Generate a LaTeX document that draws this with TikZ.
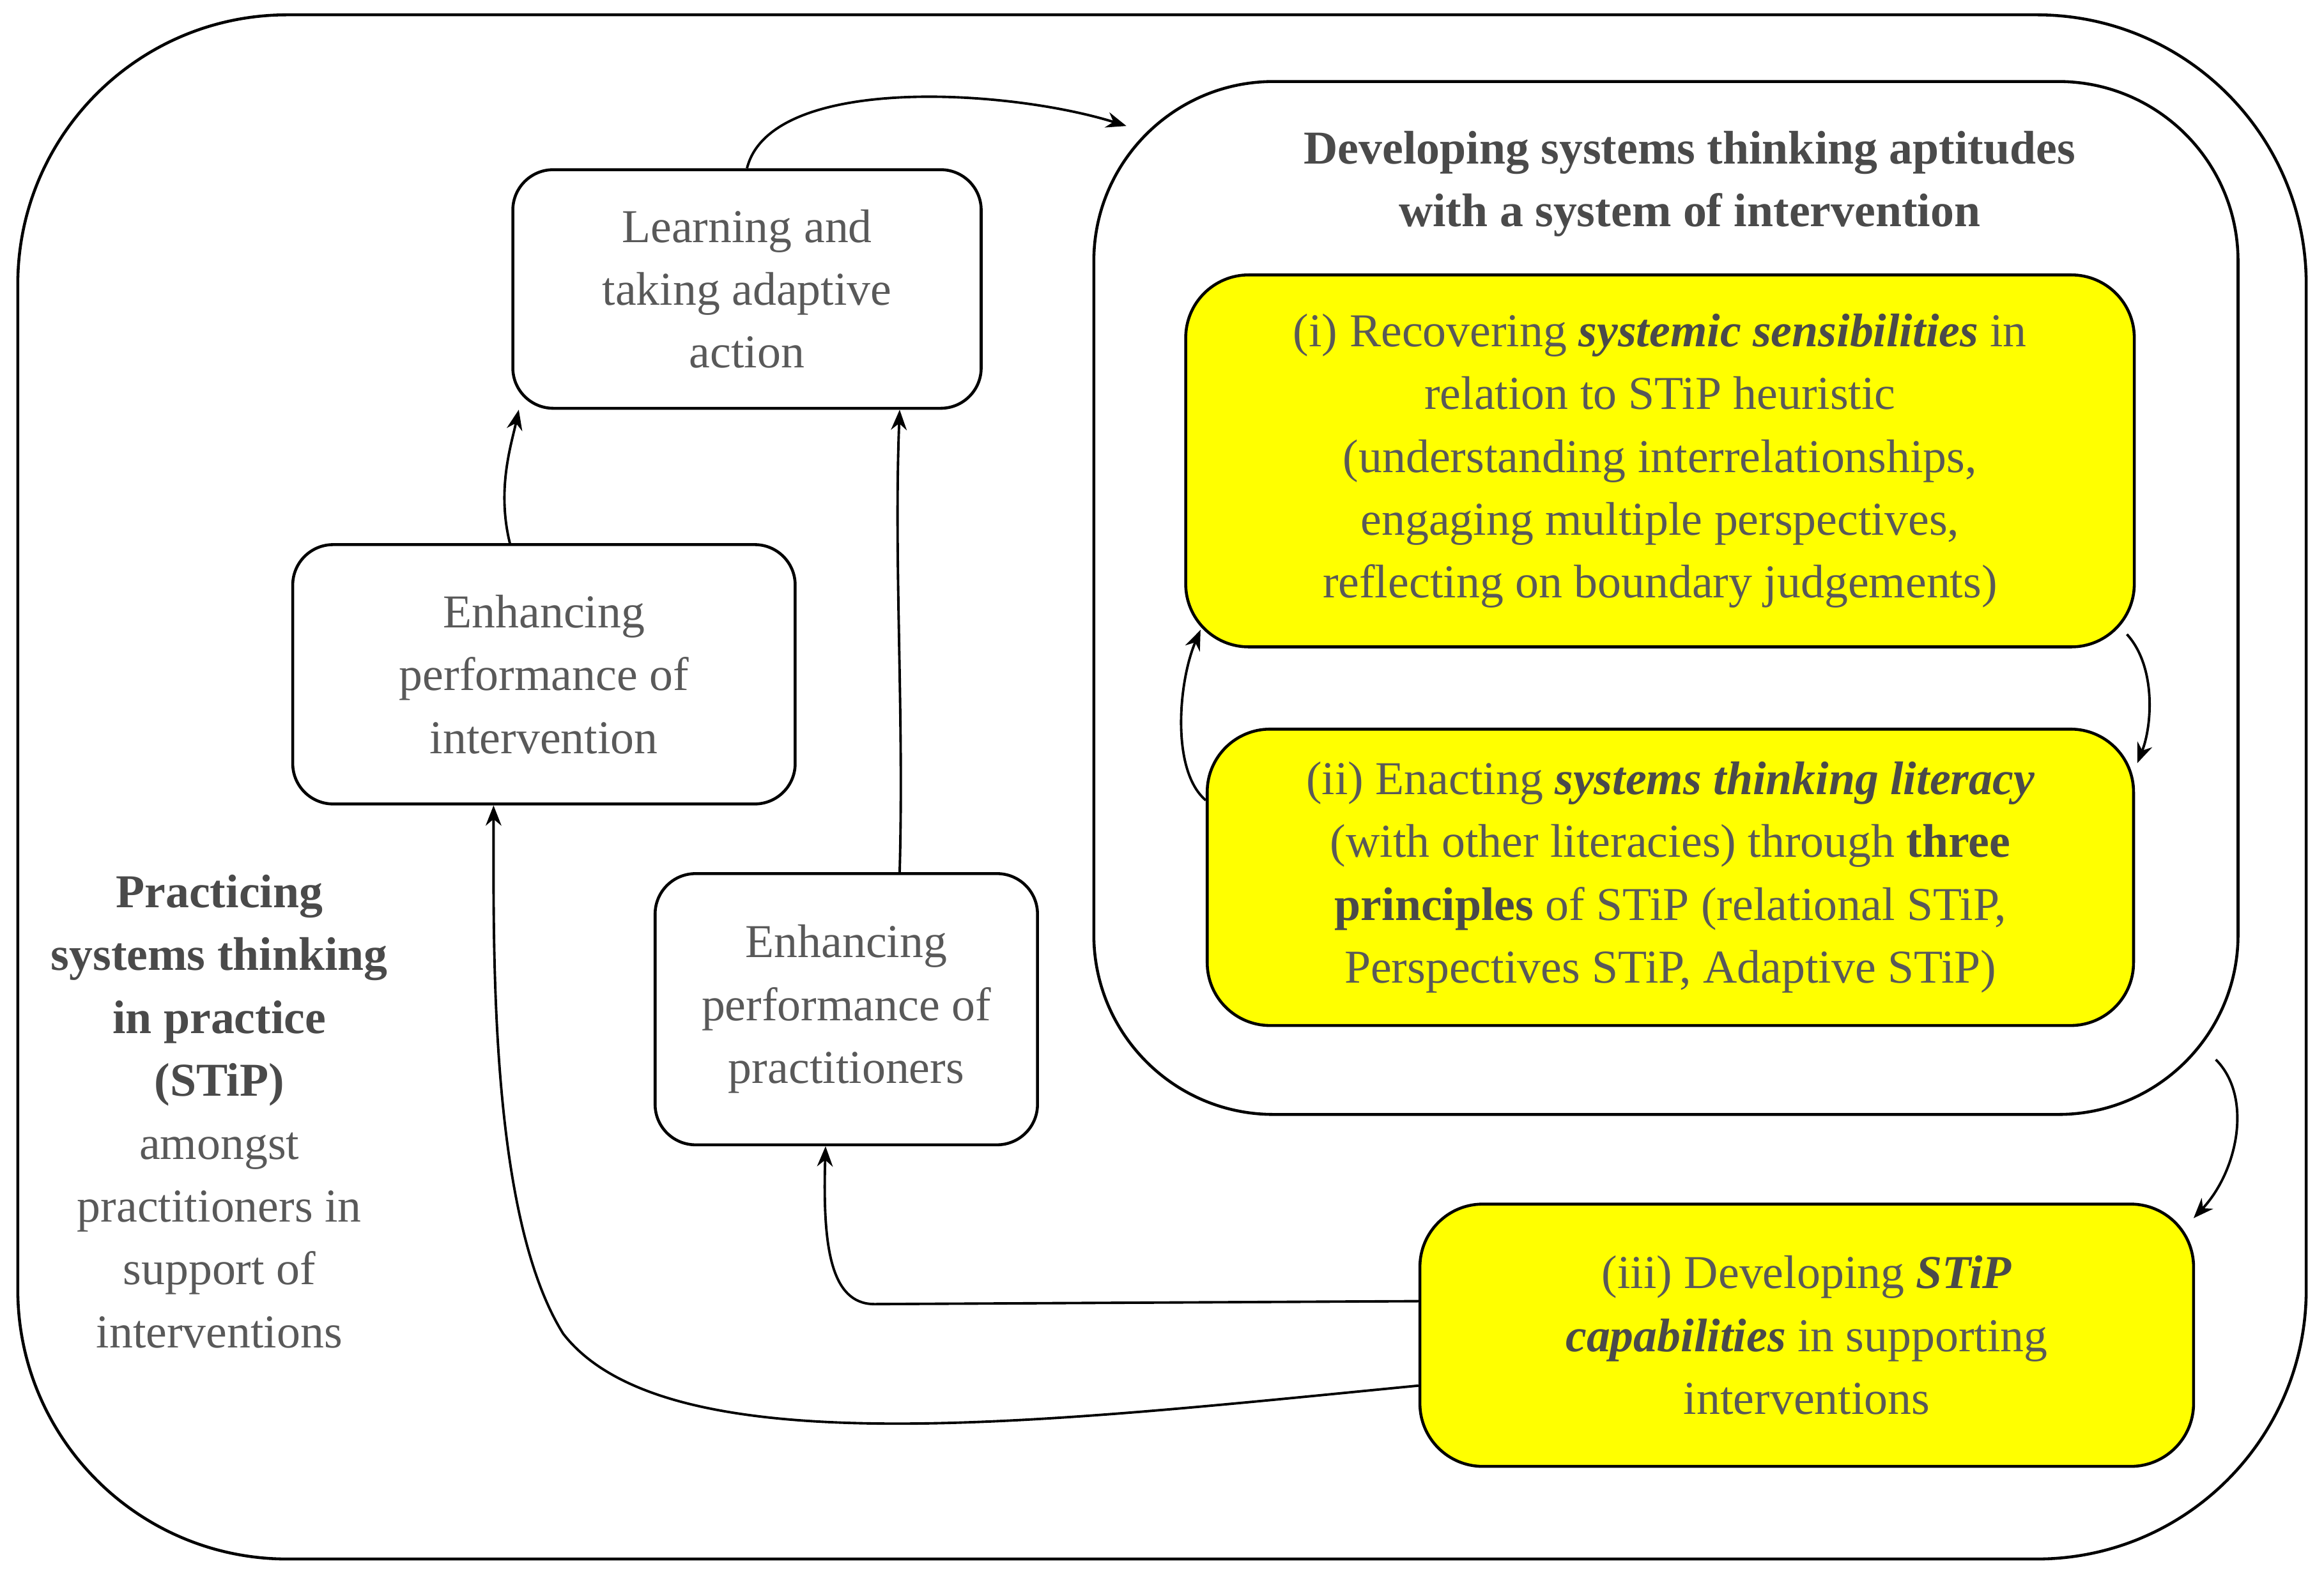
\documentclass[tikz,border=0pt]{standalone}
\usepackage{fontspec}
\setmainfont{Liberation Serif}
\usetikzlibrary{arrows.meta}
\definecolor{txt}{HTML}{595959}
\definecolor{bld}{HTML}{4A4A4A}
\definecolor{yel}{HTML}{FFFF00}
\begin{document}
\begin{tikzpicture}[x=0.023195cm,y=-0.023195cm,
  box/.style={draw,line width=1.3pt,rounded corners=#1},
  lbl/.style={align=center,text=txt,font=\fontsize{21}{28}\selectfont},
  arr/.style={-{Stealth[length=9pt,width=7pt]},line width=1.1pt}]
\useasboundingbox (0,0) rectangle (1568,1066);
\draw[box=120pt] (12,10) rectangle (1556,1052);
\draw[box=80pt] (738,55) rectangle (1510,752);
\node[box=18pt,minimum width=316*0.023195cm,minimum height=161*0.023195cm,lbl] (learn) at (504,195) {Learning and\\taking adaptive\\action};
\node[box=18pt,minimum width=339*0.023195cm,minimum height=175*0.023195cm,lbl] (interv) at (367,455) {Enhancing\\performance of\\intervention};
\node[box=18pt,minimum width=258*0.023195cm,minimum height=183*0.023195cm,lbl] (pract) at (571,681) {Enhancing\\performance of\\practitioners};
\node[lbl,font=\fontsize{21}{28}\selectfont\bfseries,text=bld] (title) at (1140,124) {Developing systems thinking aptitudes\\with a system of intervention};
\node[box=28pt,fill=yel,minimum width=640*0.023195cm,minimum height=251*0.023195cm,lbl] (i) at (1120,311) {(i) Recovering \textcolor{bld}{\textbf{\textit{systemic sensibilities}}} in\\relation to STiP heuristic\\(understanding interrelationships,\\engaging multiple perspectives,\\reflecting on boundary judgements)};
\node[box=28pt,fill=yel,minimum width=625*0.023195cm,minimum height=200*0.023195cm,lbl] (ii) at (1127,592) {(ii) Enacting \textcolor{bld}{\textbf{\textit{systems thinking literacy}}}\\(with other literacies) through \textcolor{bld}{\textbf{three}}\\\textcolor{bld}{\textbf{principles}} of STiP (relational STiP,\\Perspectives STiP, Adaptive STiP)};
\node[box=28pt,fill=yel,minimum width=522*0.023195cm,minimum height=177*0.023195cm,lbl] (iii) at (1219,901) {(iii) Developing \textcolor{bld}{\textbf{\textit{STiP}}}\\\textcolor{bld}{\textbf{\textit{capabilities}}} in supporting\\interventions};
\node[lbl] (left) at (148,750) {\textcolor{bld}{\textbf{Practicing}}\\\textcolor{bld}{\textbf{systems thinking}}\\\textcolor{bld}{\textbf{in practice}}\\\textcolor{bld}{\textbf{(STiP)}}\\amongst\\practitioners in\\support of\\interventions};
\coordinate (rb) at (760,85);
\coordinate (rbr) at (1495,715);
\draw[arr] (learn.north) .. controls (520,50) and (680,60) .. (rb);
\draw[arr] (interv.north -| 344,0) .. controls (335,330) and (345,300) .. (learn.south -| 350,0);
\draw[arr] (pract.north -| 607,0) .. controls (610,480) and (603,380) .. (learn.south -| 607,0);
\draw[arr] (iii.west |- 0,878) -- (590,880) .. controls (560,880) and (555,840) .. (pract.south -| 557,0);
\draw[arr] (iii.west |- 0,935) .. controls (700,960) and (450,990) .. (380,900) .. controls (330,820) and (333,640) .. (interv.south -| 333,0);
\draw[arr] (1435,428) .. controls (1455,450) and (1452,490) .. (1442,515);
\draw[arr] (ii.west |- 0,540) .. controls (790,520) and (795,460) .. (810,425);
\draw[arr] (rbr) .. controls (1520,740) and (1510,790) .. (1480,822);
\end{tikzpicture}
\end{document}
